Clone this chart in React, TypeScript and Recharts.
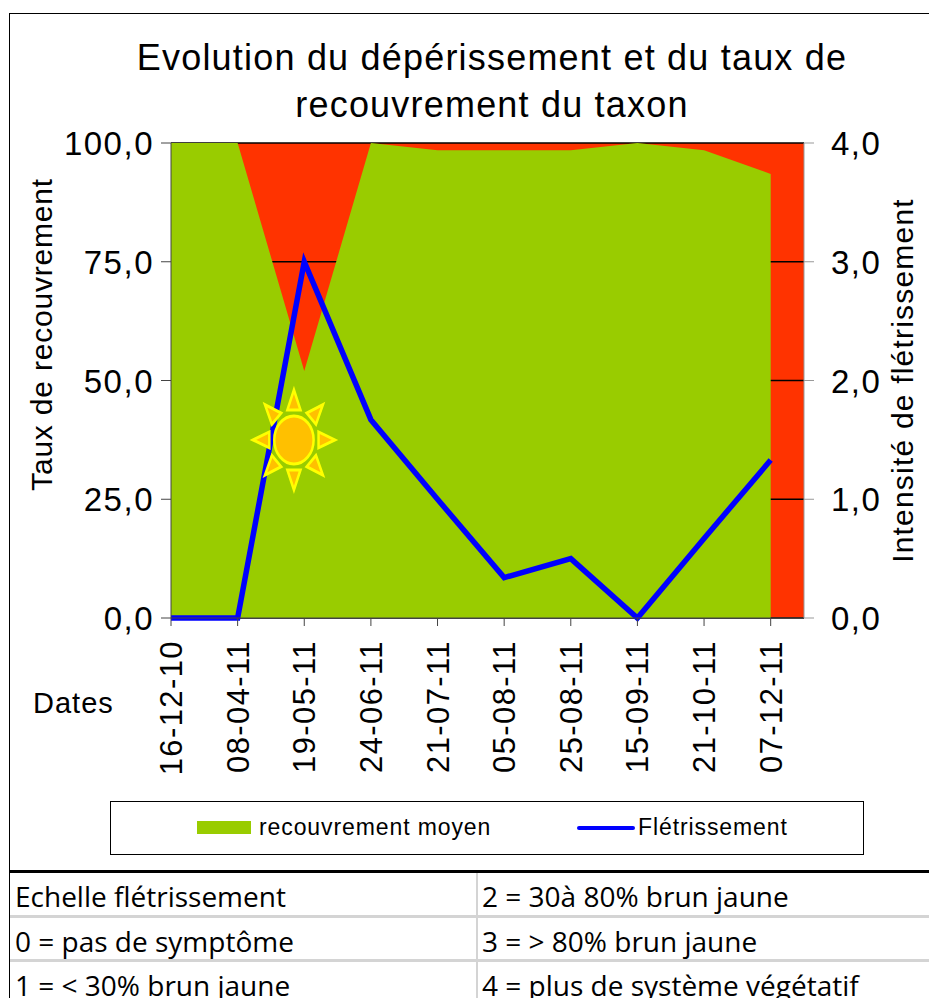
import React from "react";
import { ComposedChart, Area, Line, XAxis, YAxis, CartesianGrid, Legend, ReferenceDot } from "recharts";

const dates = ["16-12-10","08-04-11","19-05-11","24-06-11","21-07-11","05-08-11","25-08-11","15-09-11","21-10-11","07-12-11"];
const recouvrement = [100,100,52,100,98.5,98.5,98.5,100,98.5,93.5];
const fletrissement = [0,0,3,1.67,1,0.34,0.5,0,0.67,1.33];
const leftTicks = [0,25,50,75,100];
const rightTicks = [0,1,2,3,4];
const tableRows = [
  ["Echelle flétrissement","2 = 30à 80% brun jaune"],
  ["0 = pas de symptôme","3 = > 80% brun jaune"],
  ["1 = < 30% brun jaune","4 = plus de système végétatif"],
];
const titleLines = ["Evolution du dépérissement et du taux de","recouvrement du taxon"];
const rows = dates.map((d,i)=>({i,date:d,recouvrement:recouvrement[i],fletrissement:fletrissement[i]}));

const GREEN="#99CC00", RED="#FF3300", BLUE="#0000FF";
const SANS="'Liberation Sans', Arial, sans-serif";
const fmt=(v:number)=>v.toFixed(1).replace(".",",");

function DateTick(p:any){
  const {x,y,payload}=p;
  return <text x={0} y={0} transform={`translate(${x+11},${y+12}) rotate(-90)`} textAnchor="end" fontFamily={SANS} fontSize={31} letterSpacing={1.4} fill="#000">{dates[payload.value]}</text>;
}
function ValueTick(p:any){
  const {x,y,payload,textAnchor}=p;
  const dx = textAnchor==="end" ? -5 : 15;
  return <text x={x+dx} y={y+12} textAnchor={textAnchor} fontFamily={SANS} fontSize={33} letterSpacing={1.5} fill="#000">{fmt(payload.value)}</text>;
}
function Sun(p:any){
  const {cx,cy}=p;
  const rays=[0,45,90,135,180,225,270,315];
  return <g transform={`translate(${cx},${cy}) scale(0.82,1)`}>
    {rays.map(a=><polygon key={a} transform={`rotate(${a})`} points="-8,-30 8,-30 0,-50" fill="#FFC000" stroke="#FFFF00" strokeWidth={3}/>)}
    <ellipse rx={24} ry={24} fill="#FFC000" stroke="#FFFF00" strokeWidth={3}/>
  </g>;
}
function LegendBox(){
  return <div style={{display:"flex",alignItems:"center",height:"100%",fontFamily:SANS,fontSize:23,letterSpacing:0.9,color:"#000",position:"relative"}}>
    <span style={{position:"absolute",left:86,top:19,width:54,height:13,background:GREEN}}/>
    <span style={{position:"absolute",left:148,top:12}}>recouvrement moyen</span>
    <span style={{position:"absolute",left:466,top:24,width:58,height:4,background:BLUE,borderRadius:2}}/>
    <span style={{position:"absolute",left:527,top:12}}>Flétrissement</span>
  </div>;
}

export default function App(){
  return <div style={{position:"absolute",left:0,top:0,width:929,height:998,background:"#fff",overflow:"hidden"}}>
    <div style={{position:"absolute",left:9,top:13,width:930,height:858,borderTop:"1.5px solid #000",borderLeft:"1.5px solid #000"}}/>
    <ComposedChart width={929} height={870} data={rows} margin={{left:0,top:143,right:0,bottom:0}} style={{position:"absolute",left:0,top:0}}>
      <CartesianGrid horizontal vertical={false} yAxisId="left" fill={RED} stroke="#000" strokeWidth={1.5} syncWithTicks/>
      <XAxis xAxisId={0} dataKey="i" type="number" domain={[0,9.5]} ticks={dates.map((_,i)=>i)} tick={<DateTick/>} tickLine={{stroke:"#444"}} axisLine={{stroke:"#444"}} tickSize={8} height={198} interval={0} allowDataOverflow/>
      <YAxis yAxisId="left" width={171} domain={[0,100]} ticks={leftTicks} tick={<ValueTick/>} tickLine={{stroke:"#444"}} axisLine={{stroke:"#444"}} tickSize={10}
        label={{value:"Taux de recouvrement",angle:-90,position:"insideLeft",dx:36,dy:-46,style:{fontFamily:SANS,fontSize:30,letterSpacing:0.8,textAnchor:"middle",fill:"#000"}}}/>
      <YAxis yAxisId="right" orientation="right" width={125} domain={[0,4]} ticks={rightTicks} tick={<ValueTick/>} tickLine={{stroke:"#999"}} axisLine={{stroke:"#999"}} tickSize={10}
        label={{value:"Intensité de flétrissement",angle:-90,position:"insideRight",dx:-22,dy:0,style:{fontFamily:SANS,fontSize:30,letterSpacing:1.2,textAnchor:"middle",fill:"#000"}}}/>
      <Area yAxisId="left" dataKey="recouvrement" name="recouvrement moyen" type="linear" fill={GREEN} fillOpacity={1} stroke="none" isAnimationActive={false}/>
      <Line yAxisId="right" dataKey="fletrissement" name="Flétrissement" type="linear" stroke={BLUE} strokeWidth={5.5} dot={false} isAnimationActive={false}/>
      <ReferenceDot yAxisId="left" x={1.845} y={37.5} r={1} shape={<Sun/>} ifOverflow="visible"/>
      <Legend content={<LegendBox/>} wrapperStyle={{position:"absolute",left:110,top:801,width:754,height:54,border:"1.5px solid #000",boxSizing:"border-box",background:"#fff",bottom:"auto",right:"auto"}}/>
    </ComposedChart>
    {titleLines.map((t,i)=><div key={t} style={{position:"absolute",left:0,width:984,top:36+i*47,textAlign:"center",fontFamily:SANS,fontSize:36,lineHeight:"44px",letterSpacing:1.2,whiteSpace:"nowrap",color:"#000"}}>{t}</div>)}
    <div style={{position:"absolute",left:33,top:686,fontFamily:SANS,fontSize:29,lineHeight:"34px",letterSpacing:1,color:"#000"}}>Dates</div>
    <div style={{position:"absolute",left:9,top:870,width:930,height:128,borderTop:"3px solid #000",borderLeft:"1.5px solid #000"}}>
      {tableRows.map((r,i)=><React.Fragment key={i}>
        <div style={{position:"absolute",left:5,top:4+i*44.5,fontFamily:"'Open Sans',sans-serif",fontSize:28,lineHeight:"38px",whiteSpace:"nowrap",color:"#000"}}>{r[0]}</div>
        <div style={{position:"absolute",left:472,top:4+i*44.5,fontFamily:"'Open Sans',sans-serif",fontSize:28,lineHeight:"38px",whiteSpace:"nowrap",color:"#000"}}>{r[1]}</div>
        {i<2&&<div style={{position:"absolute",left:0,right:0,top:42+i*44,height:3,background:"#D4D4D4"}}/>}
      </React.Fragment>)}
      <div style={{position:"absolute",left:466,top:0,bottom:0,width:2,background:"#D4D4D4"}}/>
    </div>
  </div>;
}
